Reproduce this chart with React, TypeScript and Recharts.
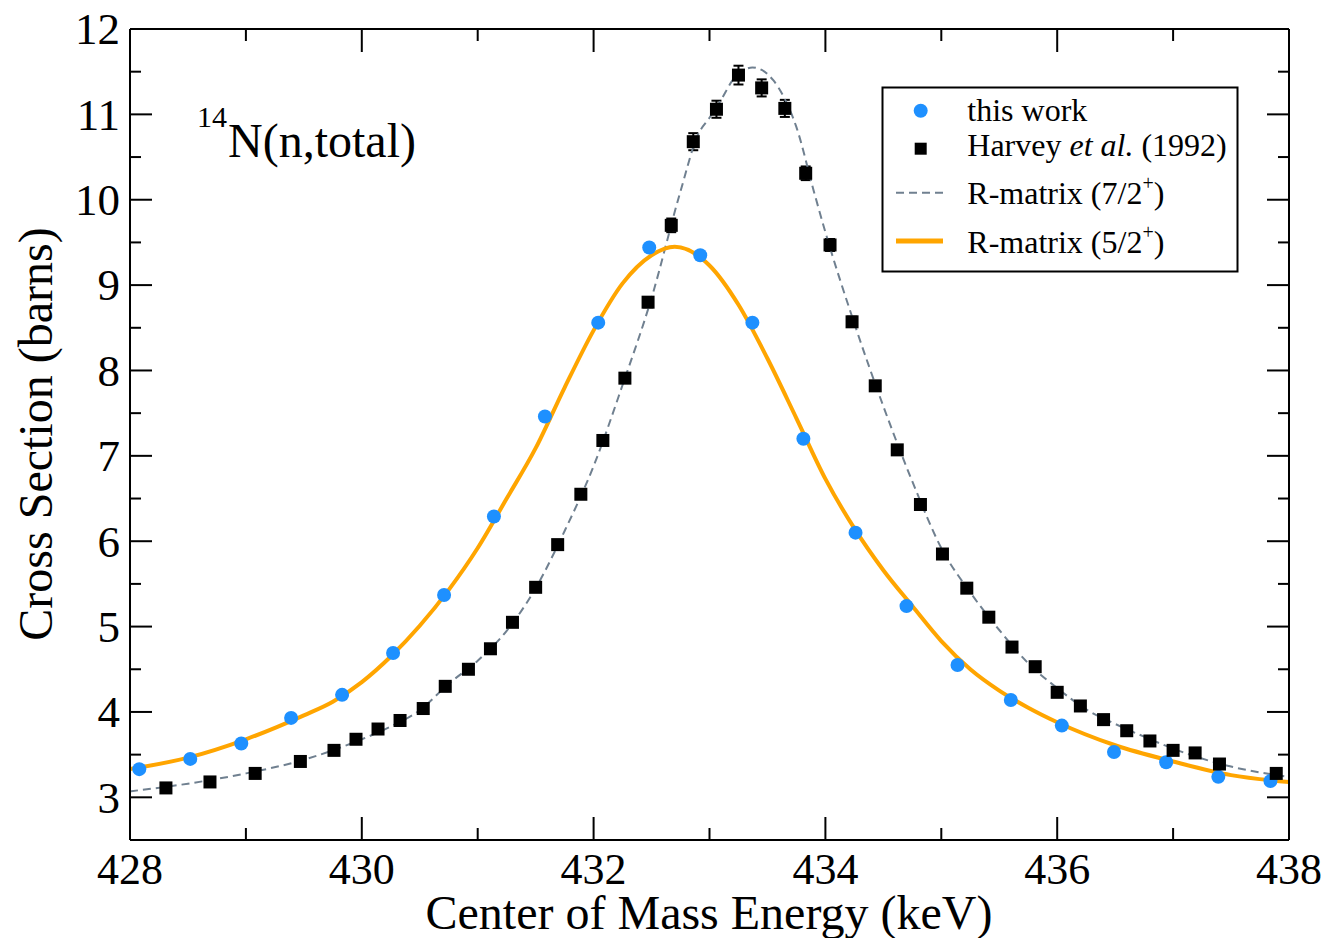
import React from "react";
import { ComposedChart, XAxis, YAxis, Scatter, Line, ErrorBar } from "recharts";

// this work (blue circles)
const thisWorkE = [428.08, 428.52, 428.96, 429.39, 429.83, 430.27, 430.71, 431.14, 431.58, 432.04, 432.48, 432.92, 433.37, 433.81, 434.26, 434.7, 435.14, 435.6, 436.04, 436.49, 436.94, 437.39, 437.84];
const thisWorkXS = [3.33, 3.45, 3.63, 3.93, 4.2, 4.69, 5.37, 6.29, 7.46, 8.56, 9.44, 9.35, 8.56, 7.2, 6.1, 5.24, 4.55, 4.14, 3.84, 3.53, 3.41, 3.24, 3.19];

// Harvey et al. (1992) (black squares)
const harveyE = [428.31, 428.69, 429.08, 429.47, 429.76, 429.95, 430.14, 430.33, 430.53, 430.72, 430.92, 431.11, 431.3, 431.5, 431.69, 431.89, 432.08, 432.27, 432.47, 432.67, 432.86, 433.06, 433.25, 433.45, 433.65, 433.83, 434.04, 434.23, 434.43, 434.62, 434.82, 435.01, 435.22, 435.41, 435.61, 435.81, 436.0, 436.2, 436.4, 436.6, 436.8, 437.0, 437.19, 437.4, 437.89];
const harveyXS = [3.11, 3.18, 3.28, 3.42, 3.55, 3.68, 3.8, 3.9, 4.04, 4.3, 4.5, 4.74, 5.05, 5.46, 5.96, 6.55, 7.18, 7.91, 8.8, 9.7, 10.68, 11.06, 11.46, 11.31, 11.07, 10.31, 9.47, 8.57, 7.82, 7.07, 6.43, 5.85, 5.45, 5.11, 4.76, 4.53, 4.23, 4.07, 3.91, 3.78, 3.66, 3.55, 3.52, 3.39, 3.28];
const harveyErr = [0.03, 0.03, 0.03, 0.03, 0.03, 0.03, 0.03, 0.03, 0.03, 0.03, 0.03, 0.03, 0.03, 0.03, 0.04, 0.04, 0.05, 0.05, 0.06, 0.08, 0.1, 0.1, 0.11, 0.1, 0.1, 0.08, 0.07, 0.06, 0.05, 0.05, 0.04, 0.04, 0.03, 0.03, 0.03, 0.03, 0.03, 0.03, 0.03, 0.03, 0.03, 0.03, 0.03, 0.03, 0.03];

// R-matrix (7/2+) dashed curve
const fitE72 = [428.0, 428.5, 429.0, 429.5, 430.0, 430.25, 430.5, 430.75, 431.0, 431.25, 431.5, 431.75, 432.0, 432.25, 432.5, 432.75, 432.9, 433.0, 433.1, 433.2, 433.3, 433.37, 433.45, 433.55, 433.65, 433.75, 433.9, 434.0, 434.25, 434.5, 434.75, 435.0, 435.25, 435.5, 435.75, 436.0, 436.25, 436.5, 436.75, 437.0, 437.5, 438.0];
const fitXS72 = [3.07, 3.16, 3.28, 3.44, 3.68, 3.83, 4.02, 4.33, 4.6, 4.95, 5.45, 6.12, 6.88, 7.83, 8.85, 10.1, 10.76, 10.96, 11.17, 11.4, 11.52, 11.55, 11.52, 11.4, 11.18, 10.85, 10.1, 9.62, 8.55, 7.58, 6.7, 5.92, 5.4, 4.96, 4.57, 4.28, 4.03, 3.86, 3.71, 3.57, 3.36, 3.24];

// R-matrix (5/2+) orange curve
const fitE52 = [428.0, 428.5, 429.0, 429.5, 429.75, 430.0, 430.25, 430.5, 430.75, 431.0, 431.25, 431.5, 431.75, 432.0, 432.25, 432.5, 432.7, 433.0, 433.25, 433.5, 433.75, 434.0, 434.25, 434.5, 434.75, 435.0, 435.25, 435.5, 435.75, 436.0, 436.5, 437.0, 437.5, 438.0];
const fitXS52 = [3.33, 3.465, 3.68, 3.96, 4.12, 4.35, 4.65, 5.01, 5.43, 5.92, 6.5, 7.09, 7.8, 8.47, 9.02, 9.35, 9.45, 9.23, 8.77, 8.14, 7.44, 6.73, 6.15, 5.66, 5.24, 4.83, 4.5, 4.25, 4.05, 3.88, 3.61, 3.42, 3.26, 3.18];

const xTicks = [428, 429, 430, 431, 432, 433, 434, 435, 436, 437, 438];
const yTicks = [3, 3.5, 4, 4.5, 5, 5.5, 6, 6.5, 7, 7.5, 8, 8.5, 9, 9.5, 10, 10.5, 11, 11.5, 12];

const thisWork = thisWorkE.map((x, i) => ({ x, y: thisWorkXS[i] }));
const harvey = harveyE.map((x, i) => ({ x, y: harveyXS[i], err: harveyErr[i] }));
const fit72 = fitE72.map((x, i) => ({ x, y: fitXS72[i] }));
const fit52 = fitE52.map((x, i) => ({ x, y: fitXS52[i] }));

const FONT = '"Liberation Serif", "Times New Roman", serif';
const BLUE = "#1e90ff";
const ORANGE = "#ffa500";
const SLATE = "#708090";

const isMajorX = (v: number) => v % 2 === 0;
const isMajorY = (v: number) => Number.isInteger(v);

const BottomTick = ({ x, y, payload }: any) => {
  const major = isMajorX(payload.value);
  return (
    <g>
      <line x1={x} y1={y} x2={x} y2={y - (major ? 23 : 12)} stroke="#000" strokeWidth={2} />
      {major && (
        <text x={x} y={y + 44} textAnchor="middle" fontSize={44} fontFamily={FONT} fill="#000">
          {payload.value}
        </text>
      )}
    </g>
  );
};

const TopTick = ({ x, y, payload }: any) => (
  <line x1={x} y1={y} x2={x} y2={y + (isMajorX(payload.value) ? 23 : 12)} stroke="#000" strokeWidth={2} />
);

const LeftTick = ({ x, y, payload }: any) => {
  const major = isMajorY(payload.value);
  return (
    <g>
      <line x1={x} y1={y} x2={x + (major ? 22 : 11)} y2={y} stroke="#000" strokeWidth={2} />
      {major && (
        <text x={x - 10} y={y} dy="0.34em" textAnchor="end" fontSize={45} fontFamily={FONT} fill="#000">
          {payload.value}
        </text>
      )}
    </g>
  );
};

const RightTick = ({ x, y, payload }: any) => (
  <line x1={x} y1={y} x2={x - (isMajorY(payload.value) ? 22 : 11)} y2={y} stroke="#000" strokeWidth={2} />
);

const Legend = () => (
  <svg width={358} height={187} style={{ position: "absolute", left: 881, top: 86 }}>
    <rect x={1.5} y={1.5} width={355} height={184} fill="#fff" stroke="#000" strokeWidth={2} />
    <circle cx={39.7} cy={24.7} r={7} fill={BLUE} />
    <rect x={33.7} y={56.7} width={12} height={12} fill="#000" />
    <line x1={15} x2={62} y1={106.7} y2={106.7} stroke={SLATE} strokeWidth={2} strokeDasharray="8 5" />
    <line x1={15} x2={62} y1={155} y2={155} stroke={ORANGE} strokeWidth={5} />
    <g fontFamily={FONT} fontSize={32} fill="#000">
      <text x={86.3} y={34.7}>this work</text>
      <text x={86.3} y={70}>
        Harvey <tspan fontStyle="italic">et al.</tspan> (1992)
      </text>
      <text x={86.3} y={118}>
        R-matrix (7/2<tspan fontSize={20} dy={-14}>+</tspan>
        <tspan dy={14}>)</tspan>
      </text>
      <text x={86.3} y={167.3}>
        R-matrix (5/2<tspan fontSize={20} dy={-14}>+</tspan>
        <tspan dy={14}>)</tspan>
      </text>
    </g>
  </svg>
);

const Titles = () => (
  <svg width={1329} height={938} style={{ position: "absolute", left: 0, top: 0, pointerEvents: "none" }}>
    <g fontFamily={FONT} fill="#000">
      <text x={709} y={929} textAnchor="middle" fontSize={48}>
        Center of Mass Energy (keV)
      </text>
      <text x={52} y={434} textAnchor="middle" fontSize={48} transform="rotate(-90 52 434)">
        Cross Section (barns)
      </text>
      <text x={197} y={127} fontSize={30}>14</text>
      <text x={228} y={157} fontSize={48}>N(n,total)</text>
    </g>
  </svg>
);

export default function App() {
  return (
    <div style={{ position: "relative", width: 1329, height: 938, background: "#fff" }}>
      <style>{`body { margin: 0; }`}</style>
      <ComposedChart width={1329} height={938} margin={{ top: 28, right: 39, bottom: 0, left: 0 }}>
        <XAxis
          dataKey="x"
          type="number"
          domain={[428, 438]}
          ticks={xTicks}
          interval={0}
          allowDataOverflow
          height={98}
          tickSize={0}
          tickMargin={0}
          tickLine={false}
          axisLine={{ stroke: "#000", strokeWidth: 2 }}
          tick={<BottomTick />}
        />
        <XAxis
          xAxisId="top"
          orientation="top"
          dataKey="x"
          type="number"
          domain={[428, 438]}
          ticks={xTicks}
          interval={0}
          allowDataOverflow
          height={1}
          tickSize={0}
          tickMargin={0}
          tickLine={false}
          axisLine={{ stroke: "#000", strokeWidth: 2 }}
          tick={<TopTick />}
        />
        <YAxis
          dataKey="y"
          type="number"
          domain={[2.5, 12]}
          ticks={yTicks}
          interval={0}
          allowDataOverflow
          width={130}
          tickSize={0}
          tickMargin={0}
          tickLine={false}
          axisLine={{ stroke: "#000", strokeWidth: 2 }}
          tick={<LeftTick />}
        />
        <YAxis
          yAxisId="right"
          orientation="right"
          dataKey="y"
          type="number"
          domain={[2.5, 12]}
          ticks={yTicks}
          interval={0}
          allowDataOverflow
          width={1}
          tickSize={0}
          tickMargin={0}
          tickLine={false}
          axisLine={{ stroke: "#000", strokeWidth: 2 }}
          tick={<RightTick />}
        />
        <Scatter
          data={thisWork}
          isAnimationActive={false}
          shape={(p: any) => <circle cx={p.cx} cy={p.cy} r={7} fill={BLUE} />}
        />
        <Scatter
          data={harvey}
          isAnimationActive={false}
          shape={(p: any) => <rect x={p.cx - 6.5} y={p.cy - 6.5} width={13} height={13} fill="#000" />}
        >
          <ErrorBar dataKey="err" direction="y" width={5} stroke="#000" strokeWidth={2} />
        </Scatter>
        <Line
          data={fit72}
          dataKey="y"
          type="monotone"
          stroke={SLATE}
          strokeWidth={2}
          strokeDasharray="8 5"
          dot={false}
          activeDot={false}
          isAnimationActive={false}
        />
        <Line
          data={fit52}
          dataKey="y"
          type="monotone"
          stroke={ORANGE}
          strokeWidth={4}
          dot={false}
          activeDot={false}
          isAnimationActive={false}
        />
      </ComposedChart>
      <Titles />
      <Legend />
    </div>
  );
}
